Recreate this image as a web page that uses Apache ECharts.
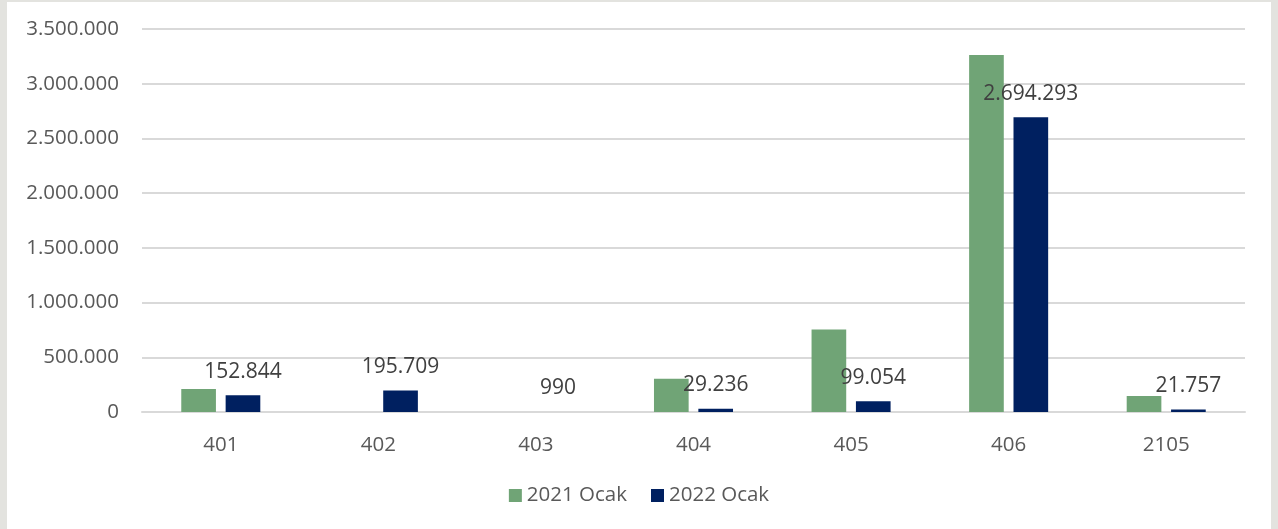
<!DOCTYPE html>
<html><head><meta charset="utf-8">
<script src="https://cdn.jsdelivr.net/npm/echarts@6/dist/echarts.min.js"></script>
<style>
html,body{margin:0;padding:0;background:#E3E3DF;}
#wrap{position:absolute;left:7px;top:2px;width:1264px;height:527px;background:#fff;}
#c{width:1264px;height:527px;}
</style></head><body>
<div id="wrap"><div id="c"></div></div>
<script>
const categories = ['401','402','403','404','405','406','2105'];
const seriesNames = ['2021 Ocak','2022 Ocak'];
const values2021 = [211000, 0, 0, 303000, 754000, 3263000, 147000];
const values2022 = [152844, 195709, 990, 29236, 99054, 2694293, 21757];
const yTicks = [0, 500000, 1000000, 1500000, 2000000, 2500000, 3000000, 3500000];

function fmt(v){ return String(Math.round(v)).replace(/\B(?=(\d{3})+(?!\d))/g,'.'); }
const font = 'Open Sans, Liberation Sans, sans-serif';
const chart = echarts.init(document.getElementById('c'));
chart.setOption({
  animation:false,
  grid:{left:135,right:26,top:27,bottom:117},
  legend:{bottom:18,left:'center',itemWidth:13,itemHeight:13,itemGap:24,icon:'rect',
    textStyle:{fontSize:20.5,color:'#595959',fontFamily:font},data:seriesNames},
  xAxis:{type:'category',data:categories,
    axisLine:{lineStyle:{color:'#D9D9D9',width:2}},axisTick:{show:false},
    axisLabel:{fontSize:20.5,color:'#595959',fontFamily:font,margin:23}},
  yAxis:{type:'value',min:yTicks[0],max:yTicks[yTicks.length-1],interval:500000,
    axisLine:{show:false},axisTick:{show:false},
    splitLine:{lineStyle:{color:'#D9D9D9',width:2}},
    axisLabel:{fontSize:20.5,color:'#595959',fontFamily:font,margin:23,formatter:fmt}},
  series:[
    {name:seriesNames[0],type:'bar',data:values2021,itemStyle:{color:'#70A476'},
      barWidth:'22%',barGap:'28%'},
    {name:seriesNames[1],type:'bar',data:values2022,itemStyle:{color:'#002060'},
      barWidth:'22%',
      label:{show:true,position:'top',distance:13,fontSize:21,color:'#404040',fontFamily:font,
        formatter:p=>fmt(p.value)}}
  ]
});
</script></body></html>
